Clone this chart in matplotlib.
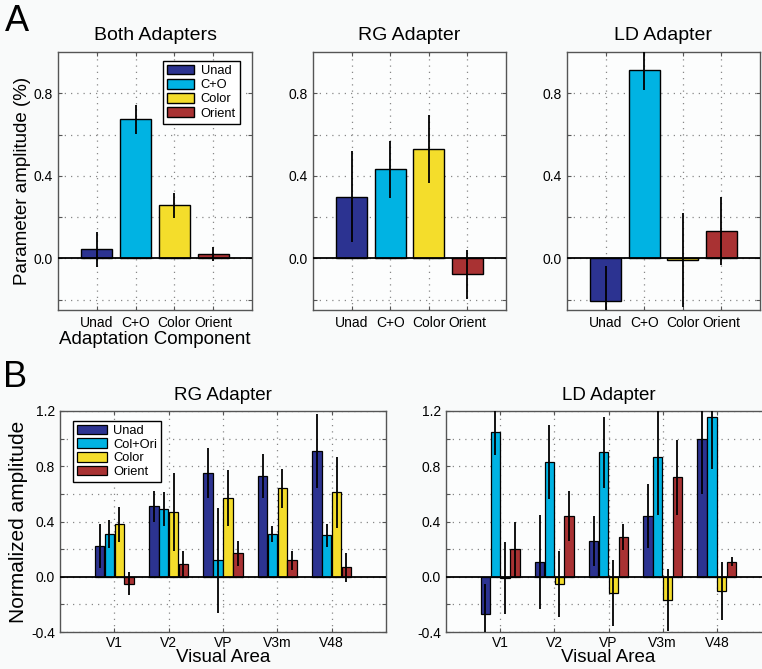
import numpy as np
import matplotlib
matplotlib.use("Agg")
import matplotlib.pyplot as plt

plt.rcParams["font.family"] = ["Liberation Sans", "DejaVu Sans"]

# 색상
COLORS = ["#2c3391", "#00b3e3", "#f4dd2b", "#a93233"]

# 패널 A 데이터
comp_labels = ["Unad", "C+O", "Color", "Orient"]
both_vals = [0.044, 0.673, 0.257, 0.02]
both_err = [0.085, 0.07, 0.06, 0.035]
rg_vals = [0.299, 0.432, 0.530, -0.078]
rg_err = [0.22, 0.137, 0.167, 0.12]
ld_vals = [-0.206, 0.914, -0.008, 0.134]
ld_err = [0.17, 0.097, 0.227, 0.165]

# 패널 B 데이터
areas = ["V1", "V2", "VP", "V3m", "V48"]
series_b = ["Unad", "Col+Ori", "Color", "Orient"]
rg_b_vals = [
    [0.22, 0.51, 0.75, 0.73, 0.91],
    [0.31, 0.49, 0.12, 0.31, 0.30],
    [0.38, 0.47, 0.57, 0.64, 0.61],
    [-0.05, 0.09, 0.17, 0.12, 0.07],
]
rg_b_err = [
    [0.16, 0.11, 0.18, 0.16, 0.265],
    [0.10, 0.125, 0.38, 0.06, 0.085],
    [0.125, 0.28, 0.20, 0.14, 0.255],
    [0.085, 0.10, 0.09, 0.07, 0.105],
]
ld_b_vals = [
    [-0.27, 0.11, 0.26, 0.44, 1.00],
    [1.05, 0.83, 0.90, 0.87, 1.16],
    [-0.01, -0.05, -0.12, -0.17, -0.10],
    [0.20, 0.44, 0.29, 0.72, 0.11],
]
ld_b_err = [
    [0.22, 0.34, 0.18, 0.23, 0.40],
    [0.17, 0.27, 0.255, 0.42, 0.38],
    [0.26, 0.24, 0.24, 0.225, 0.21],
    [0.20, 0.18, 0.095, 0.27, 0.035],
]

W, H = 762, 669
fig = plt.figure(figsize=(W / 100, H / 100), dpi=100, facecolor="#f9fafa")


def px_axes(left, top, right, bottom):
    return fig.add_axes([left / W, 1 - bottom / H, (right - left) / W, (bottom - top) / H])


def style_axes(ax, yticks, label_every=2):
    ax.set_facecolor("#fcfdfd")
    for s in ax.spines.values():
        s.set_color("#555555")
        s.set_linewidth(1.0)
    ax.set_yticks(yticks)
    ax.set_yticklabels([f"{t:.1f}" if i % label_every == 0 else "" for i, t in enumerate(yticks)])
    ax.tick_params(direction="in", length=3, width=0.8, colors="#555555",
                   labelcolor="black", labelsize=10, top=True, right=True)
    ax.grid(True, linestyle=(0, (1, 4)), color="#888888", linewidth=0.9)
    ax.set_axisbelow(True)
    ax.axhline(0, color="black", linewidth=1.3, zorder=4)


def draw_a(ax, vals, errs, title):
    x = np.arange(1, len(vals) + 1)
    ax.bar(x, vals, width=0.8, color=COLORS, edgecolor="black", linewidth=1.0, zorder=3)
    ax.vlines(x, np.array(vals) - errs, np.array(vals) + errs, color="black", linewidth=1.3, zorder=5)
    ax.set_xlim(0, 5)
    ax.set_ylim(-0.25, 1.0)
    style_axes(ax, [-0.2, 0.0, 0.2, 0.4, 0.6, 0.8], label_every=2)
    ax.set_yticklabels(["", "0.0", "", "0.4", "", "0.8"])
    ax.set_xticks(x)
    ax.set_xticklabels(comp_labels, fontsize=10)
    ax.tick_params(axis="x", pad=4)
    ax.set_title(title, fontsize=14, pad=9)


def draw_b(ax, vals, errs, title):
    x = np.arange(1, len(areas) + 1)
    step = 0.7273 / 4
    for i in range(4):
        xi = x + (i - 1.5) * step
        v = np.array(vals[i])
        e = np.array(errs[i])
        ax.bar(xi, v, width=step * 0.95, color=COLORS[i], edgecolor="black",
               linewidth=0.9, zorder=3, label=series_b[i])
        ax.vlines(xi, v - e, v + e, color="black", linewidth=1.3, zorder=5)
    ax.set_xlim(0, 6)
    ax.set_ylim(-0.4, 1.2)
    ticks = [-0.4, -0.2, 0.0, 0.2, 0.4, 0.6, 0.8, 1.0, 1.2]
    style_axes(ax, ticks, label_every=2)
    ax.set_xticks(x)
    ax.set_xticklabels(areas, fontsize=10)
    ax.tick_params(axis="x", pad=3)
    ax.set_title(title, fontsize=13.5, pad=8)


ax1 = px_axes(58, 52, 252, 310)
draw_a(ax1, both_vals, both_err, "Both Adapters")
ax1.set_ylabel("Parameter amplitude (%)", fontsize=13.5, labelpad=2)
ax1.set_xlabel("Adaptation Component", fontsize=13.5, labelpad=1)
leg = ax1.legend(ax1.patches, comp_labels, loc="upper right", bbox_to_anchor=(0.97, 0.99),
                 fontsize=9.3, handlelength=2.1, handleheight=0.75, labelspacing=0.15,
                 handletextpad=0.5, borderpad=0.3, fancybox=False, framealpha=1)
leg.get_frame().set_edgecolor("black")
leg.get_frame().set_linewidth(1.0)

ax2 = px_axes(313, 52, 506, 310)
draw_a(ax2, rg_vals, rg_err, "RG Adapter")

ax3 = px_axes(567, 52, 760, 310)
draw_a(ax3, ld_vals, ld_err, "LD Adapter")

bx1 = px_axes(60, 411, 386, 632)
draw_b(bx1, rg_b_vals, rg_b_err, "RG Adapter")
bx1.set_ylabel("Normalized amplitude", fontsize=15, labelpad=2)
bx1.set_xlabel("Visual Area", fontsize=13.5, labelpad=-1)
leg = bx1.legend(loc="upper left", bbox_to_anchor=(0.02, 0.985), fontsize=9.3,
                 handlelength=2.3, handleheight=0.75, labelspacing=0.12,
                 handletextpad=0.5, borderpad=0.3, fancybox=False, framealpha=1)
leg.get_frame().set_edgecolor("black")
leg.get_frame().set_linewidth(1.0)

bx2 = px_axes(446, 411, 771, 632)
draw_b(bx2, ld_b_vals, ld_b_err, "LD Adapter")
bx2.set_xlabel("Visual Area", fontsize=13.5, labelpad=-1)

fig.text(5 / W, 1 - 4 / H, "A", fontsize=26, va="top", ha="left")
fig.text(3 / W, 1 - 360 / H, "B", fontsize=26, va="top", ha="left")

fig.savefig("out.png", dpi=100, facecolor=fig.get_facecolor())
